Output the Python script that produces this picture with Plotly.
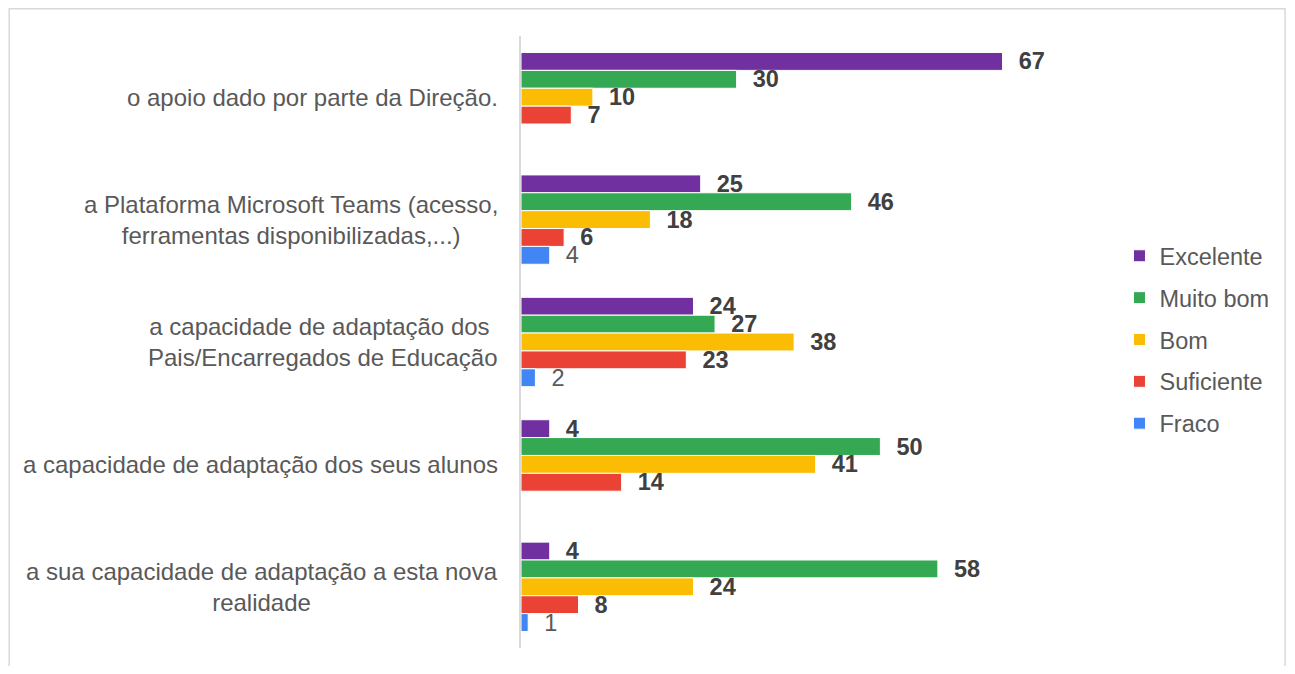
import plotly.graph_objects as go

categories = [
    "o apoio dado por parte da Direção.",
    "a Plataforma Microsoft Teams (acesso,<br>ferramentas disponibilizadas,...)",
    "a capacidade de adaptação dos <br>Pais/Encarregados de Educação",
    "a capacidade de adaptação dos seus alunos",
    "a sua capacidade de adaptação a esta nova<br>realidade",
]
series_names = ["Excelente", "Muito bom", "Bom", "Suficiente", "Fraco"]
excelente = [67, 25, 24, 4, 4]
muito_bom = [30, 46, 27, 50, 58]
bom = [10, 18, 38, 41, 24]
suficiente = [7, 6, 23, 14, 8]
fraco = [None, 4, 2, None, 1]
colors = ["#7030A0", "#34A853", "#FBBC04", "#EA4335", "#4285F4"]

values = [excelente, muito_bom, bom, suficiente, fraco]
FONT = "Liberation Sans, Arial, sans-serif"

fig = go.Figure()
for name, vals, col in zip(series_names, values, colors):
    is_fraco = name == "Fraco"
    fig.add_trace(go.Bar(
        name=name,
        y=categories,
        x=vals,
        orientation="h",
        marker=dict(color=col, line=dict(color="white", width=1)),
        text=[("" if v is None else str(v)) for v in vals],
        texttemplate="\u00a0\u00a0%{text}",
        textposition="outside",
        constraintext="none",
        cliponaxis=False,
        textfont=dict(family=FONT, size=23.5,
                      color="#595959" if is_fraco else "#404040",
                      weight="normal" if is_fraco else "bold"),
        legendgroup=name,
        hoverinfo="skip",
    ))

# page has an 8px body margin; figure coords = page coords - 8
W, H = 1279, 658
L, T, B = 513, 28, 18
XMAX = 80
plot_w = 575.5
R = W - L - plot_w
plot_h = H - T - B

annotations = []
for c in categories:
    annotations.append(dict(
        x=-21 / plot_w, xref="paper", xanchor="right",
        y=c, yref="y", yanchor="middle",
        text=c, showarrow=False, align="center",
        font=dict(family=FONT, size=24, color="#595959"),
    ))

fig.update_layout(
    width=W, height=H,
    margin=dict(l=L, r=R, t=T, b=B, pad=0),
    paper_bgcolor="white", plot_bgcolor="white",
    barmode="group", bargap=0.27, bargroupgap=0,
    xaxis=dict(range=[0, XMAX], showgrid=False, zeroline=False,
               showticklabels=False, showline=False, ticks=""),
    yaxis=dict(type="category", autorange="reversed", showgrid=False,
               showticklabels=False, showline=True, linecolor="#D9D9D9",
               linewidth=1.5, ticks=""),
    legend=dict(x=(1112 - L) / plot_w, xanchor="left",
                y=(H - B - 226) / plot_h, yanchor="top",
                font=dict(family=FONT, size=23.5, color="#595959"),
                tracegroupgap=8.3, itemwidth=30, bgcolor="rgba(0,0,0,0)"),
    annotations=annotations,
    shapes=[dict(type="rect", xref="paper", yref="paper",
                 x0=(0.75 - L) / plot_w, x1=(W - 1.25 - L) / plot_w,
                 y0=(H - B - 700) / plot_h, y1=(H - B - 0.75) / plot_h,
                 line=dict(color="#D9D9D9", width=1.5), layer="below")],
    showlegend=True,
)

fig.write_html("out.html")
